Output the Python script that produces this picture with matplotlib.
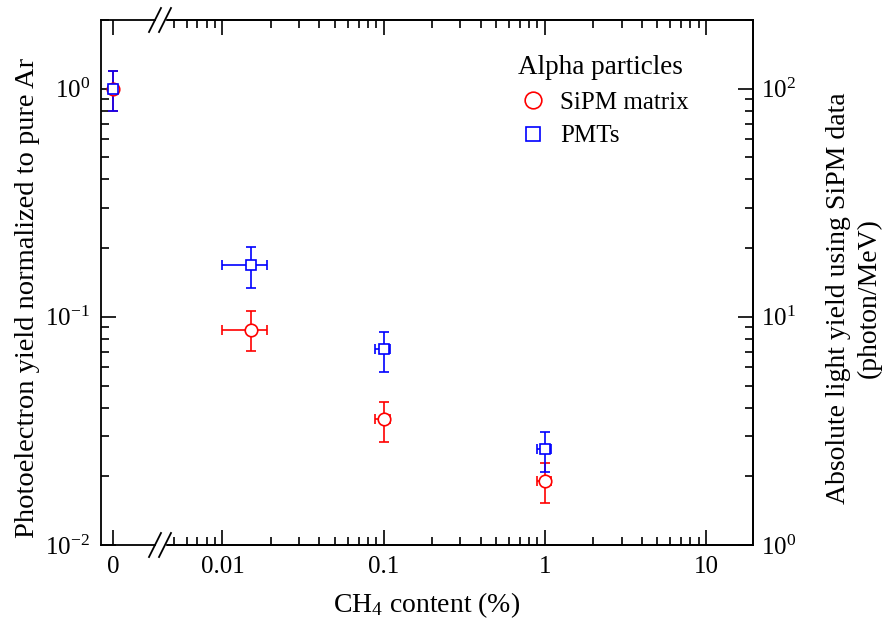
import matplotlib
matplotlib.use("Agg")
import matplotlib.pyplot as plt
from matplotlib.lines import Line2D
from matplotlib.patches import Rectangle
import numpy as np

plt.rcParams['font.family'] = ['Liberation Serif', 'DejaVu Serif']
plt.rcParams['mathtext.fontset'] = 'custom'
plt.rcParams['mathtext.rm'] = 'Liberation Serif'
plt.rcParams['mathtext.it'] = 'Liberation Serif:italic'
plt.rcParams['font.size'] = 18

# CH4 content (%) ; 0 = pure Ar
ch4 = [0.0, 0.015, 0.1, 1.0]
ch4_lo = [0.0, 0.010, 0.089, 0.89]
ch4_hi = [0.0, 0.019, 0.110, 1.09]

sipm = [1.0, 0.088, 0.0357, 0.0191]
sipm_lo = [0.80, 0.071, 0.0283, 0.0153]
sipm_hi = [1.19, 0.106, 0.0424, 0.0229]

pmt = [1.0, 0.169, 0.0724, 0.0264]
pmt_lo = [0.80, 0.134, 0.0574, 0.0209]
pmt_hi = [1.19, 0.203, 0.0859, 0.0313]

W, H = 891, 621
fig = plt.figure(figsize=(W / 100, H / 100), dpi=100)

left, right, bottom, top = 101, 753, 545, 20
brk = 160
ax0 = fig.add_axes([left / W, 1 - bottom / H, (brk - left) / W, (bottom - top) / H])
ax1 = fig.add_axes([brk / W, 1 - bottom / H, (right - brk) / W, (bottom - top) / H], sharey=ax0)
ax2 = ax1.twinx()

red = (1, 0, 0)
blue = (0, 0, 1)


def draw(ax, idx):
    xs = np.array([ch4[i] for i in idx])
    xerr = None
    if ax is ax1:
        xerr = [xs - np.array([ch4_lo[i] for i in idx]), np.array([ch4_hi[i] for i in idx]) - xs]
    for vals, lo, hi, col, mk, ms in [(sipm, sipm_lo, sipm_hi, red, 'o', 9),
                                      (pmt, pmt_lo, pmt_hi, blue, 's', 7.5)]:
        ys = np.array([vals[i] for i in idx])
        yerr = [ys - np.array([lo[i] for i in idx]), np.array([hi[i] for i in idx]) - ys]
        ax.errorbar(xs, ys, yerr=yerr, xerr=xerr, fmt=mk, color=col, mfc='white',
                    mec=col, ms=ms, mew=1.2, elinewidth=1.2, capsize=3.5, capthick=1.2,
                    zorder=3)


draw(ax0, [0])
draw(ax1, [1, 2, 3])

ax0.set_yscale('log')
ax0.set_ylim(0.01, 2.0)
ax0.set_xlim(-1, 3.9)
ax0.set_xticks([0])
ax0.set_xticklabels(['0'])
ax1.set_xscale('log')
ax1.set_xlim(0.0041, 19.6)
ax1.set_xticks([0.01, 0.1, 1, 10])
ax1.set_xticklabels(['0.01', '0.1', '1', '10'])
ax2.set_yscale('log')
ax2.set_ylim(1, 200)

for ax in (ax0, ax1, ax2):
    for sp in ax.spines.values():
        sp.set_linewidth(1.3)
ax0.spines['right'].set_visible(False)
ax1.spines['left'].set_visible(False)
ax2.spines['left'].set_visible(False)

ax0.tick_params(which='both', direction='in', top=True, right=False, width=1.2)
ax0.tick_params(which='major', length=11, pad=8)
ax0.tick_params(which='minor', length=6)
ax0.tick_params(axis='x', which='minor', top=False, bottom=False)
ax1.tick_params(which='both', direction='in', top=True, left=False, right=False,
                labelleft=False, width=1.2)
ax1.tick_params(which='major', length=11, pad=8)
ax1.tick_params(which='minor', length=6)
ax2.tick_params(which='both', direction='in', right=True, width=1.2)
ax2.tick_params(which='major', length=11, pad=6)
ax2.tick_params(which='minor', length=6)

ax0.set_ylabel('Photoelectron yield normalized to pure Ar', fontsize=20.5)
ax0.yaxis.set_label_coords((40 - left) / (brk - left), 0.47)
ax2.set_ylabel('Absolute light yield using SiPM data\n(photon/MeV)', fontsize=20,
               linespacing=1.3)
ax2.yaxis.set_label_coords((826 - brk) / (right - brk), 0.47)
fig.text((left + right) / 2 / W, 1 - 605 / H, 'CH$_4$ content (%)', ha='center',
         va='center', fontsize=20)

# axis break marks
for yb in (bottom, top):
    fig.add_artist(Rectangle(((brk - 4) / W, 1 - (yb + 3) / H), 9 / W, 6 / H,
                             transform=fig.transFigure, color='white', zorder=10,
                             clip_on=False))
    for dx in (-5, 5):
        fig.add_artist(Line2D([(brk + dx - 6) / W, (brk + dx + 6) / W],
                              [1 - (yb + 12) / H, 1 - (yb - 12) / H],
                              transform=fig.transFigure, color='black', lw=1.3,
                              zorder=11))

handles = [Line2D([], [], marker='o', ls='', mfc='white', mec=red, ms=12, mew=1.2),
           Line2D([], [], marker='s', ls='', mfc='white', mec=blue, ms=10, mew=1.2)]
leg = ax1.legend(handles, ['SiPM matrix', 'PMTs'], title='Alpha particles',
                 loc='upper left', bbox_to_anchor=((518 - brk) / (right - brk), (bottom - 55) / (bottom - top)),
                 frameon=False, fontsize=18, title_fontsize=19.5, handletextpad=0.5,
                 handlelength=1.2, labelspacing=0.45, alignment='left', borderaxespad=0,
                 borderpad=0)

fig.savefig('out.png', dpi=100)
